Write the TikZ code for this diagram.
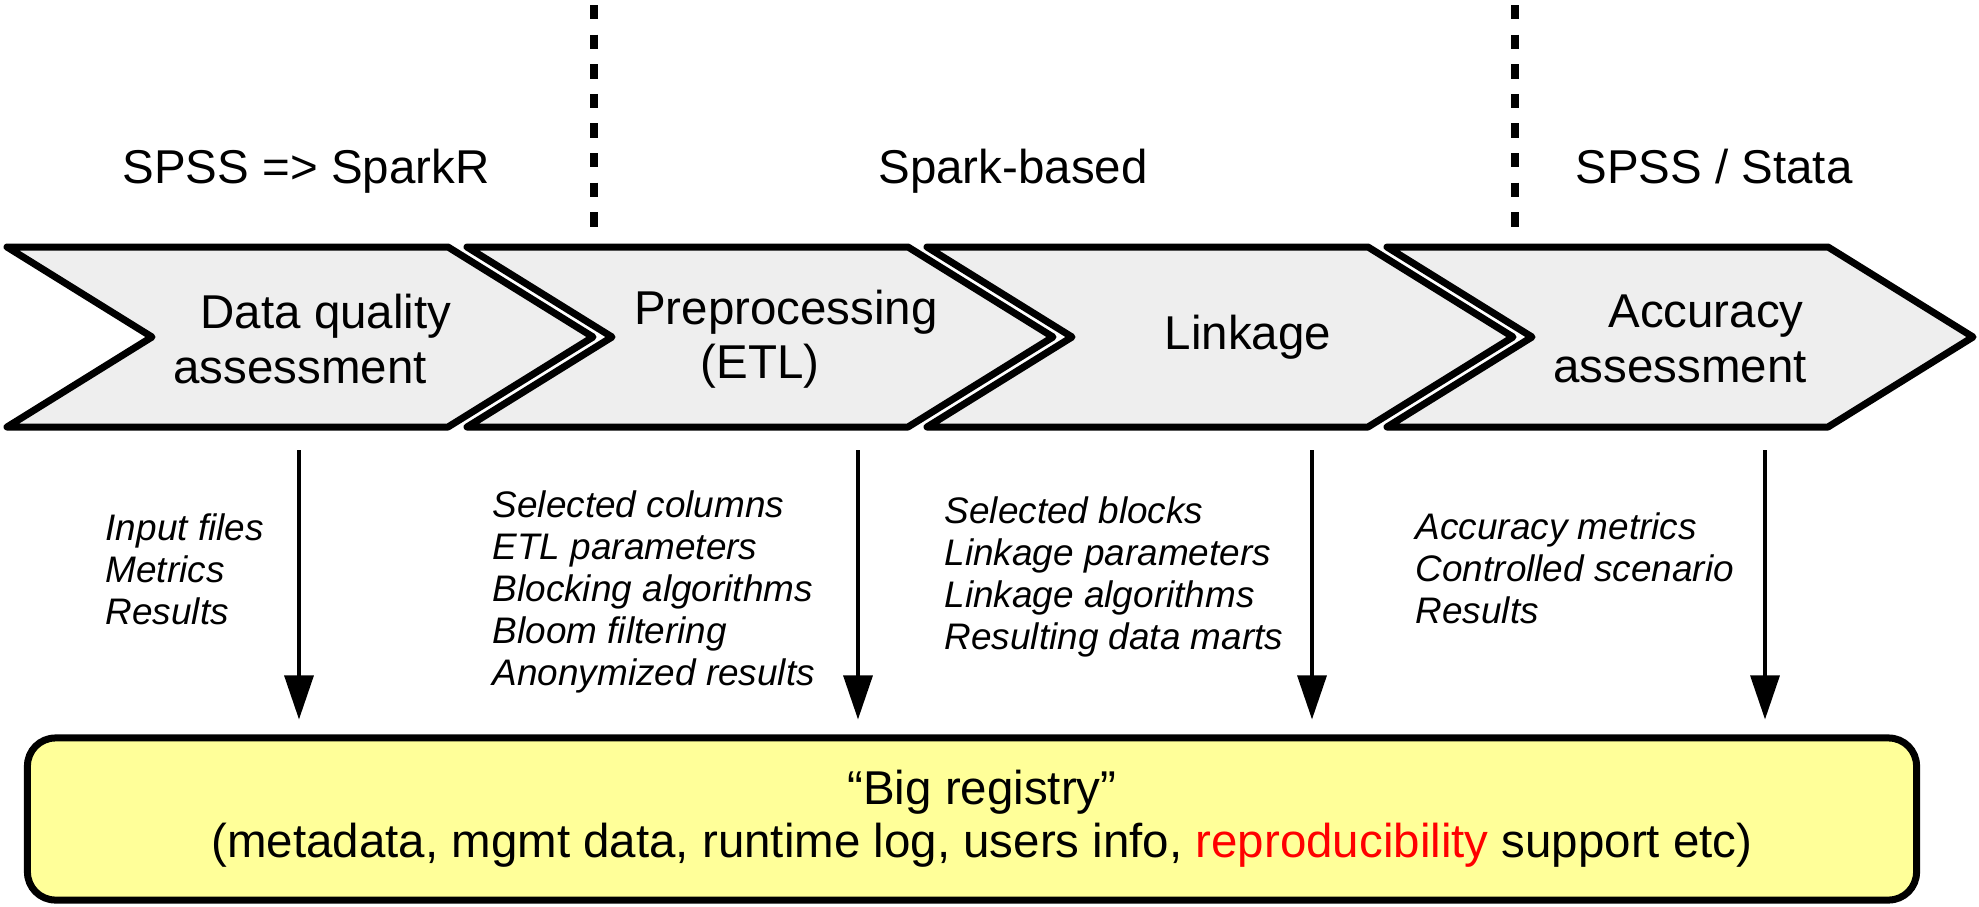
\documentclass[tikz,border=0pt]{standalone}
\usepackage{fontspec}
\setmainfont{Liberation Sans}
\usetikzlibrary{arrows.meta}
\definecolor{stageGray}{RGB}{238,238,238}
\definecolor{registryYellow}{RGB}{255,255,153}
\definecolor{highlightRed}{RGB}{255,0,0}
\tikzset{
  stage/.style={draw=black, line width=0.07cm, line join=round, fill=stageGray},
  stagelabel/.style={align=center, inner sep=0pt, font=\fontsize{13.5}{15.5}\selectfont},
  toollabel/.style={anchor=base, inner sep=0pt, font=\fontsize{13.5}{15.5}\selectfont},
  divider/.style={line width=0.078cm, dash pattern=on 0.143cm off 0.153cm},
  artefacts/.style={anchor=north west, align=left, inner sep=0pt,
    font=\fontsize{10.5}{11.95}\selectfont\itshape},
  registry/.style={draw=black, line width=0.07cm, rounded corners=0.28cm, fill=registryYellow,
    minimum width=18.88cm, minimum height=1.62cm, align=center, font=\fontsize{13.5}{15}\selectfont},
  flow/.style={-{Triangle[length=0.44cm,width=0.29cm]}, line width=0.033cm, shorten >=0.15cm}
}
\begin{document}
\begin{tikzpicture}[x=0.01cm,y=-0.01cm]
    \useasboundingbox (0,0) rectangle (1979,906);
    \node[toollabel] (toolA) at (306,183) {SPSS => SparkR};
    \node[toollabel] (toolB) at (1013,183) {Spark-based};
    \node[toollabel] (toolC) at (1714,183) {SPSS / Stata};
    \draw[divider] (594,5) -- (594,228);
    \draw[divider] (1515,5) -- (1515,228);
    \draw[stage] (7,247) -- (448,247) -- (593,337) -- (448,427) -- (7,427) -- (152,337) -- cycle;
    \draw[stage] (467,247) -- (908,247) -- (1053,337) -- (908,427) -- (467,427) -- (612,337) -- cycle;
    \draw[stage] (927,247) -- (1368,247) -- (1513,337) -- (1368,427) -- (927,427) -- (1072,337) -- cycle;
    \draw[stage] (1387,247) -- (1828,247) -- (1973,337) -- (1828,427) -- (1387,427) -- (1532,337) -- cycle;
    \node[stagelabel] (dqa) at (300,339) {\hspace*{0.52cm}Data quality\\assessment};
    \node[stagelabel] (etl) at (760,339) {\hspace*{0.52cm}Preprocessing\\(ETL)};
    \node[stagelabel] (lnk) at (1248,337) {Linkage};
    \node[stagelabel] (acc) at (1680,339) {\hspace*{0.52cm}Accuracy\\assessment};
    \node[artefacts] (outDqaText) at (105,513) {Input files\\Metrics\\Results};
    \node[artefacts] (outEtlText) at (492,490) {Selected columns\\ETL parameters\\Blocking algorithms\\Bloom filtering\\Anonymized results};
    \node[artefacts] (outLnkText) at (944,496) {Selected blocks\\Linkage parameters\\Linkage algorithms\\Resulting data marts};
    \node[artefacts] (outAccText) at (1415,512) {Accuracy metrics\\Controlled scenario\\Results};
    \node[registry] (reg) at (972,819) {\hspace*{0.2cm}“Big registry”\\\hspace*{0.2cm}(metadata, mgmt data, runtime log, users info, \textcolor{highlightRed}{reproducibility} support etc)};
    \coordinate (outDqa) at (299,450);
    \coordinate (outEtl) at (858,450);
    \coordinate (outLnk) at (1312,450);
    \coordinate (outAcc) at (1765,450);
    \draw[flow] (outDqa) -- (outDqa |- reg.north);
    \draw[flow] (outEtl) -- (outEtl |- reg.north);
    \draw[flow] (outLnk) -- (outLnk |- reg.north);
    \draw[flow] (outAcc) -- (outAcc |- reg.north);
  \end{tikzpicture}
\end{document}
